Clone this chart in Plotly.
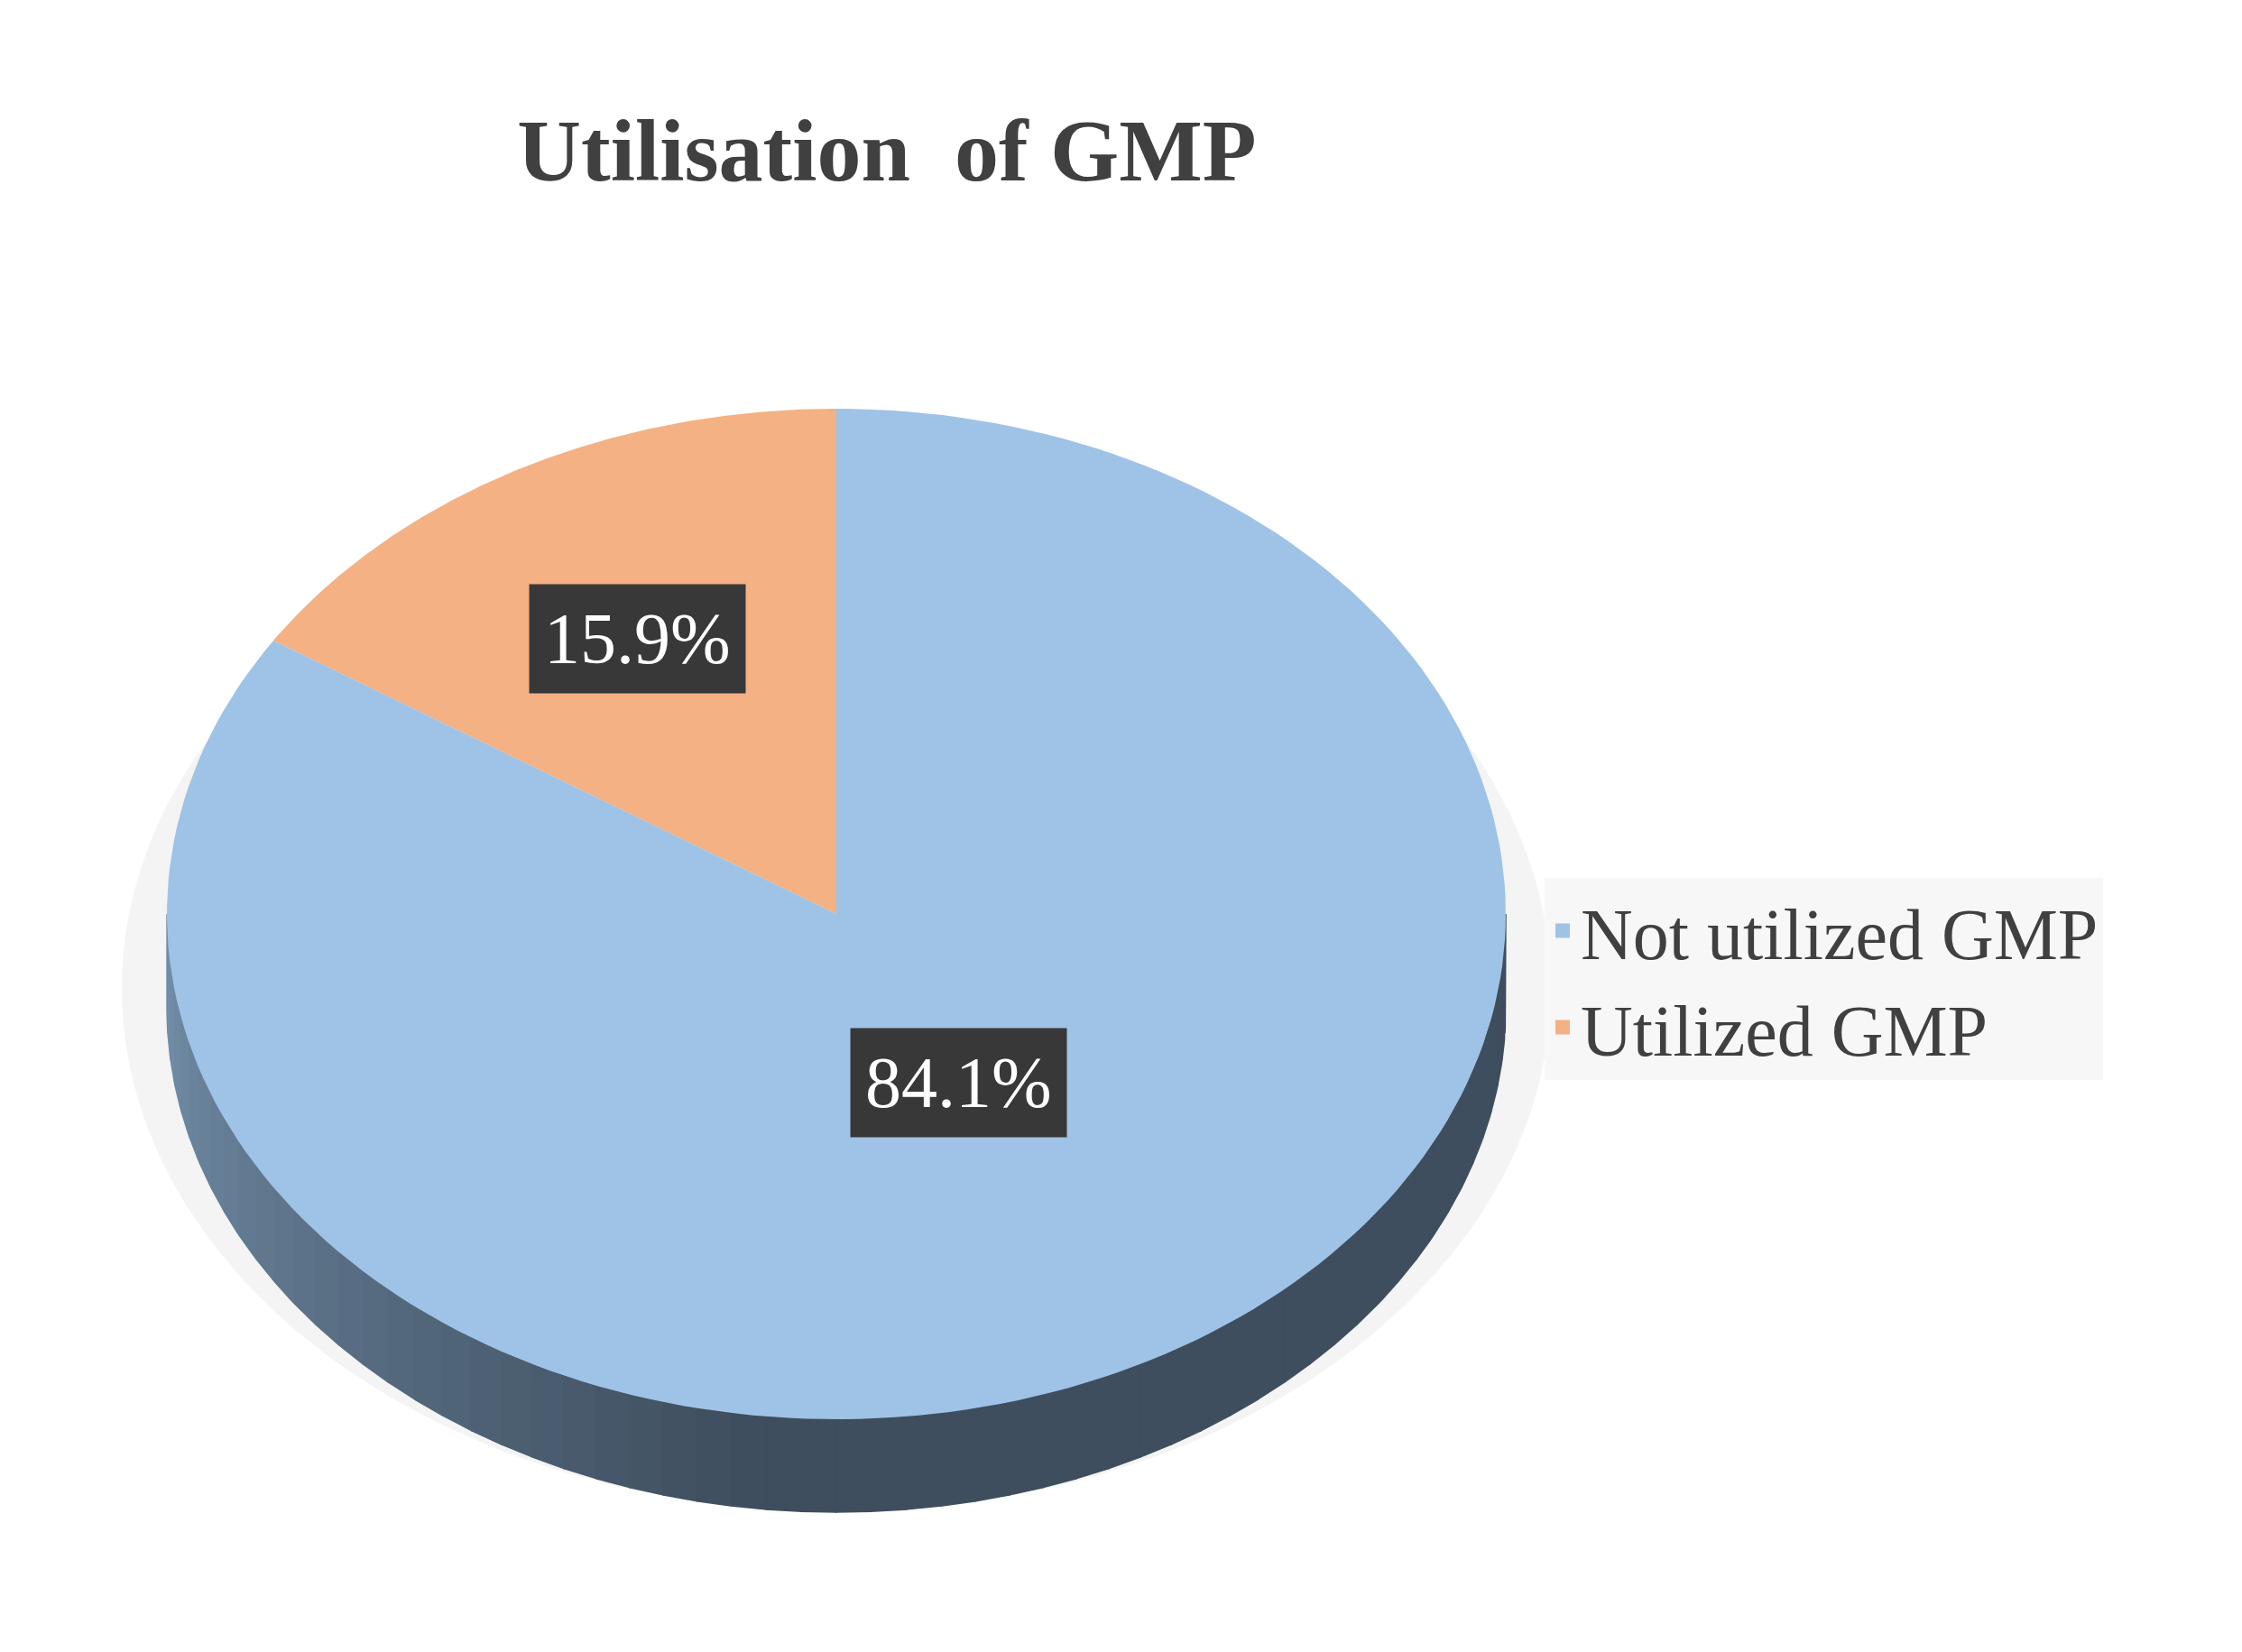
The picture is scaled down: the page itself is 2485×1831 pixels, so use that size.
import numpy as np
import plotly.graph_objects as go

labels = ["Not utilized GMP", "Utilized GMP"]
values = [84.1, 15.9]
colors = ["#9fc3e6", "#f4b183"]
title = "Utilisation  of GMP"

W, H = 2485, 1831
cx, cy, rx, ry, depth = 919, 1005, 742, 560, 103
FONT = "Liberation Serif"
label_r = {0: 0.38, 1: 0.62}

fig = go.Figure()

def ell(a, dy=0):
    r = np.radians(a)
    return cx - rx * np.sin(r), cy - ry * np.cos(r) + dy

# shadow
t = np.linspace(0, 2 * np.pi, 200)
fig.add_trace(go.Scatter(x=cx + (rx + 50) * np.cos(t), y=cy + depth * 0.8 + (ry + 20) * np.sin(t),
                         fill="toself", fillcolor="rgba(0,0,0,0.045)", line=dict(width=0),
                         mode="lines", showlegend=False, hoverinfo="skip"))

nb = 60
for i in range(nb):
    a0 = 90 + 180 * i / nb
    a1 = 90 + 180 * (i + 1) / nb
    aa = np.linspace(a0, a1, 6)
    xs1, ys1 = ell(aa)
    xs2, ys2 = ell(aa[::-1], depth)
    frac = min(1, i / (nb * 0.45))
    c0 = np.array([0x74, 0x90, 0xab]); c1 = np.array([0x3e, 0x4e, 0x5e])
    c = (c0 + (c1 - c0) * frac).astype(int)
    col = f"rgb({c[0]},{c[1]},{c[2]})"
    fig.add_trace(go.Scatter(x=np.r_[xs1, xs2, xs1[0]], y=np.r_[ys1, ys2, ys1[0]],
                             fill="toself", fillcolor=col, line=dict(width=1.5, color=col),
                             mode="lines", showlegend=False, hoverinfo="skip"))

order = [1, 0]
start = 0.0
total = sum(values)
for idx in order:
    span = values[idx] / total * 360
    aa = np.linspace(start, start + span, 200)
    xs, ys = ell(aa)
    fig.add_trace(go.Scatter(x=np.r_[cx, xs, cx], y=np.r_[cy, ys, cy], fill="toself",
                             fillcolor=colors[idx], line=dict(width=0), mode="lines",
                             showlegend=False, hoverinfo="skip"))
    mid = start + span / 2
    f = label_r[idx]
    lx, ly = cx - f * rx * np.sin(np.radians(mid)), cy - f * ry * np.cos(np.radians(mid))
    fig.add_annotation(x=lx, y=ly, text=f"{values[idx]:.1f}%", showarrow=False,
                       font=dict(family=FONT, size=80, color="white"),
                       bgcolor="#383838", borderpad=16)
    start += span

for lab, col in zip(labels, colors):
    fig.add_trace(go.Scatter(x=[None], y=[None], mode="markers", name=lab,
                             marker=dict(symbol="square", size=44, color=col)))

fig.update_layout(
    width=W, height=H, margin=dict(l=0, r=0, t=0, b=0),
    plot_bgcolor="white", paper_bgcolor="white",
    xaxis=dict(range=[0, W], visible=False, fixedrange=True),
    yaxis=dict(range=[H, 0], visible=False, fixedrange=True),
    title=dict(text=title, x=975 / W, xanchor="center", y=1 - 158 / H, yanchor="middle",
               font=dict(family=FONT, size=98, color="#404040", weight="bold")),
    legend=dict(x=1704 / W, y=1 - 965 / H, xanchor="left", yanchor="top",
                bgcolor="#f7f7f7", font=dict(family=FONT, size=80, color="#404040"),
                itemsizing="trace", itemwidth=30),
)
fig.write_html("out.html")
